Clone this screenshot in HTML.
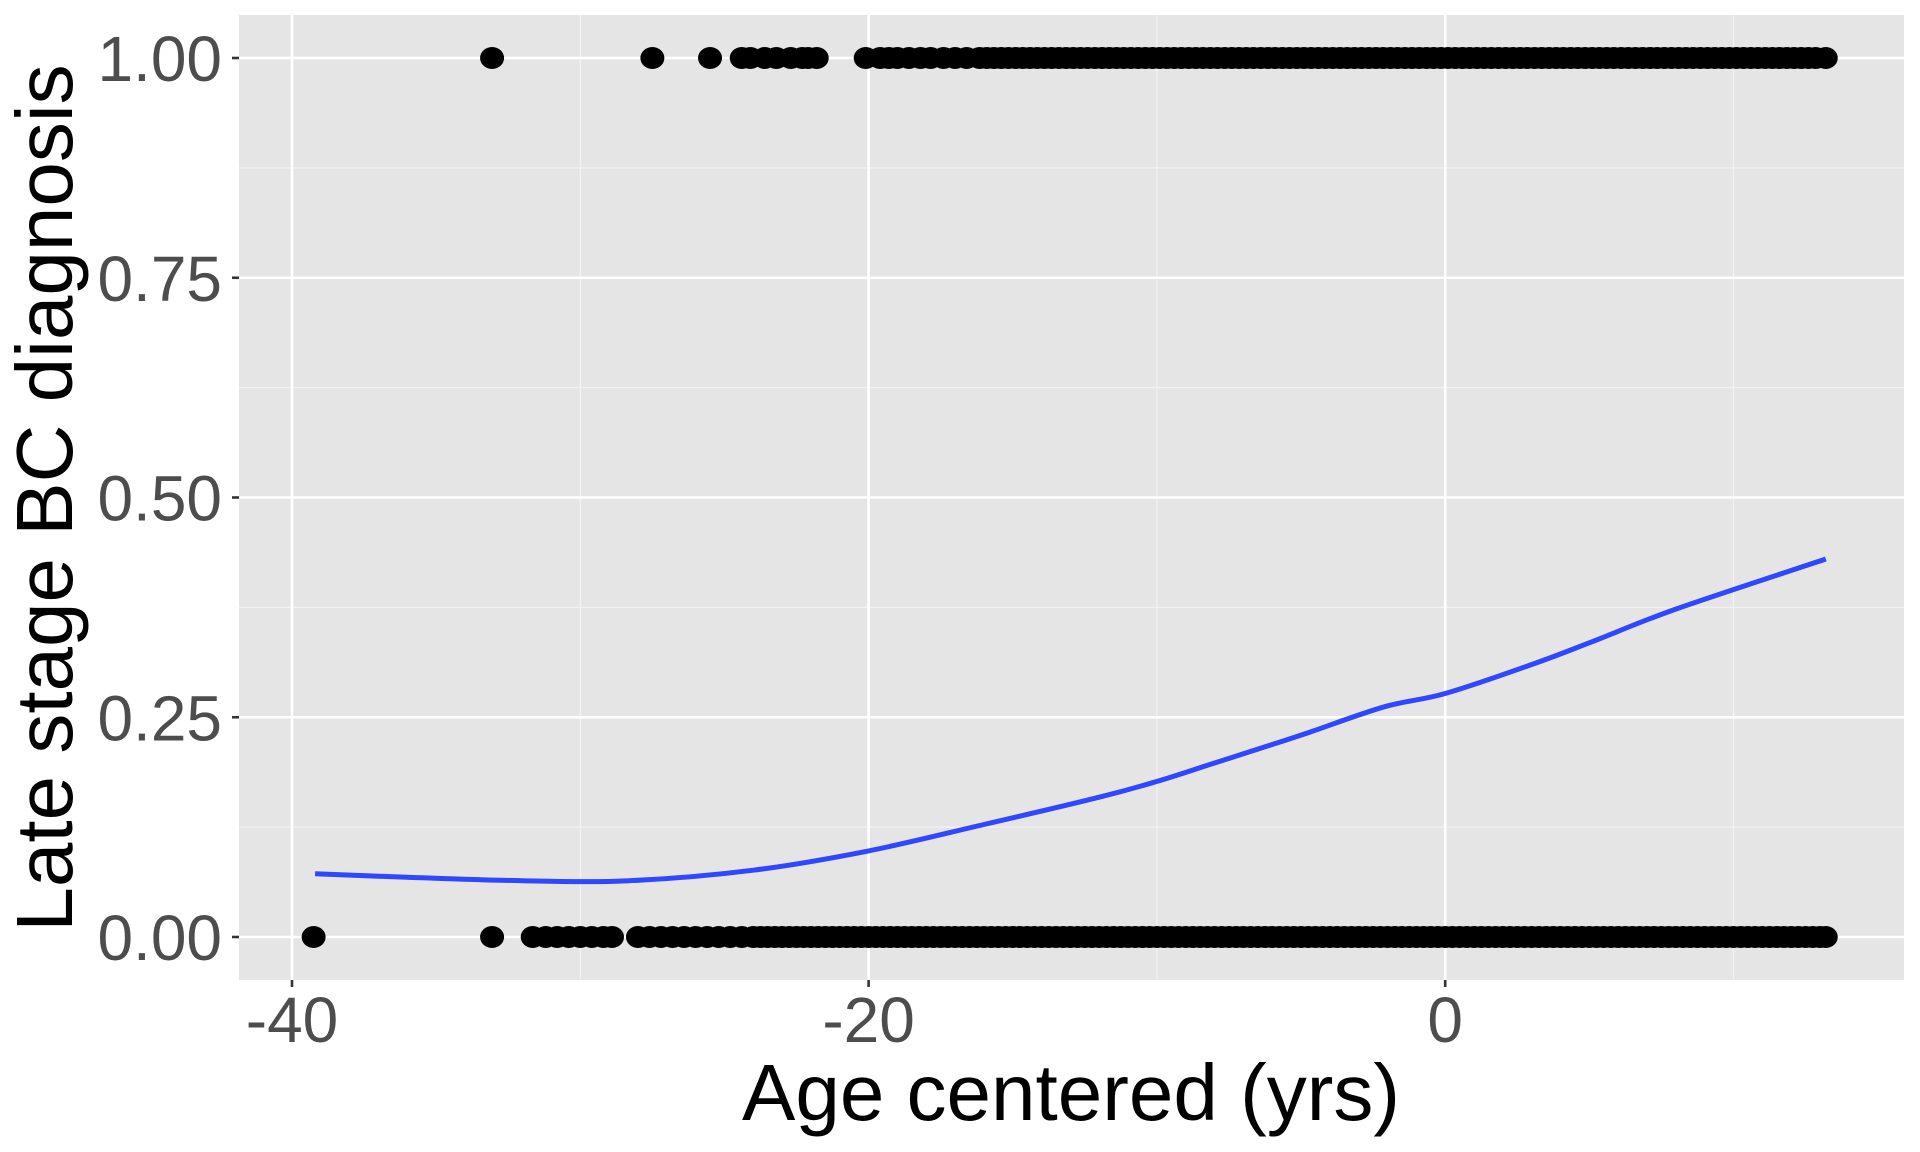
<!DOCTYPE html>
<html><head><meta charset="utf-8"><style>
body{margin:0;background:#fff;}
svg{display:block;font-family:"Liberation Sans",sans-serif;}
</style></head><body>
<svg id="chart" width="1920" height="1152" viewBox="0 0 1920 1152">
<rect x="239" y="15" width="1665" height="965" fill="#e5e5e5"/>
<g id="grid"></g>
<g id="pts"></g>
<path id="curve" fill="none" stroke="#3046ff" stroke-width="5" stroke-linejoin="round"/>
<g id="axes"></g>
<text x="1071" y="1120" font-size="80" text-anchor="middle" fill="#000">Age centered (yrs)</text>
<text transform="translate(72,498) rotate(-90)" font-size="80" text-anchor="middle" fill="#000">Late stage BC diagnosis</text>
</svg>
<script>
const xTicks=[-40,-20,0];
const xMinor=[-30,-10,10];
const yTicks=[0,0.25,0.5,0.75,1];
const yTickLabels=["0.00","0.25","0.50","0.75","1.00"];
const yMinor=[0.125,0.375,0.625,0.875];
const ones=[-33.06,-27.5,-25.5,-24.4,-24.1,-23.6,-23.2,-22.7,-22.3,-22.1,-21.8,-20.1,-19.6,-19.3,-19,-18.6,-18.2,-17.85,-17.4,-17,-16.6,-16.15,
-15.9,-15.65,-15.4,-15.15,-14.9,-14.65,-14.4,-14.15,-13.9,-13.65,-13.4,-13.15,-12.9,-12.65,-12.4,-12.15,-11.9,-11.65,-11.4,-11.15,-10.9,-10.65,-10.4,-10.15,
-9.9,-9.65,-9.4,-9.15,-8.9,-8.65,-8.4,-8.15,-7.9,-7.65,-7.4,-7.15,-6.9,-6.65,-6.4,-6.15,-5.9,-5.65,-5.4,-5.15,-4.9,-4.65,-4.4,-4.15,-3.9,-3.65,-3.4,-3.15,
-2.9,-2.65,-2.4,-2.15,-1.9,-1.65,-1.4,-1.15,-0.9,-0.65,-0.4,-0.15,0.1,0.35,0.6,0.85,1.1,1.35,1.6,1.85,2.1,2.35,2.6,2.85,3.1,3.35,3.6,3.85,4.1,4.35,4.6,4.85,
5.1,5.35,5.6,5.85,6.1,6.35,6.6,6.85,7.1,7.35,7.6,7.85,8.1,8.35,8.6,8.85,9.1,9.35,9.6,9.85,10.1,10.35,10.6,10.85,11.1,11.35,11.6,11.85,12.1,12.35,12.6,12.85,13.2];
const zeros=[-39.25,-33.06,-31.65,-31.2,-30.8,-30.4,-30,-29.6,-29.2,-28.9,-28,-27.6,-27.2,-26.8,-26.4,-26,-25.6,-25.2,-24.8,-24.4,-24,-23.75,-23.5,-23.25,-23,-22.75,-22.5,-22.25,-22,-21.75,-21.5,-21.25,-21,-20.75,-20.5,-20.25,-20,
-19.75,-19.5,-19.25,-19,-18.75,-18.5,-18.25,-18,-17.75,-17.5,-17.25,-17,-16.75,-16.5,-16.25,-16,-15.75,-15.5,-15.25,-15,-14.75,-14.5,-14.25,-14,-13.75,-13.5,-13.25,-13,
-12.75,-12.5,-12.25,-12,-11.75,-11.5,-11.25,-11,-10.75,-10.5,-10.25,-10,-9.75,-9.5,-9.25,-9,-8.75,-8.5,-8.25,-8,-7.75,-7.5,-7.25,-7,-6.75,-6.5,-6.25,-6,
-5.75,-5.5,-5.25,-5,-4.75,-4.5,-4.25,-4,-3.75,-3.5,-3.25,-3,-2.75,-2.5,-2.25,-2,-1.75,-1.5,-1.25,-1,-0.75,-0.5,-0.25,0,0.25,0.5,0.75,1,1.25,1.5,1.75,2,
2.25,2.5,2.75,3,3.25,3.5,3.75,4,4.25,4.5,4.75,5,5.25,5.5,5.75,6,6.25,6.5,6.75,7,7.25,7.5,7.75,8,8.25,8.5,8.75,9,9.25,9.5,9.75,10,10.25,10.5,10.75,11,
11.25,11.5,11.75,12,12.25,12.5,12.75,13,13.2];
const curveX=[-39.2,-36,-32,-28.3,-24,-20,-16,-12,-10,-8,-6,-4.7,-2.1,0,3,5.1,8,13.2];
const curveY=[0.072,0.068,0.064,0.064,0.076,0.098,0.128,0.159,0.177,0.198,0.219,0.233,0.262,0.277,0.310,0.336,0.373,0.430];
const sx=v=>292+(v+40)*28.83;
const sy=v=>937-v*879;
const NS="http://www.w3.org/2000/svg";
function mk(tag,attrs,parent){const e=document.createElementNS(NS,tag);for(const k in attrs)e.setAttribute(k,attrs[k]);parent.appendChild(e);return e;}
const grid=document.getElementById('grid'),axes=document.getElementById('axes'),pts=document.getElementById('pts');
xMinor.forEach(v=>{const l=mk('line',{x1:sx(v),x2:sx(v),y1:15,y2:980,stroke:'#f2f2f2','stroke-width':1.3},grid);

});
yMinor.forEach(v=>{const l=mk('line',{x1:239,x2:1904,y1:sy(v),y2:sy(v),stroke:'#f2f2f2','stroke-width':1.3},grid);

});
xTicks.forEach(v=>{const l=mk('line',{x1:sx(v),x2:sx(v),y1:15,y2:980,stroke:'#fff','stroke-width':2.6},grid);


const t=mk('line',{x1:sx(v),x2:sx(v),y1:980,y2:987,stroke:'#333','stroke-width':2.6},axes);


const tx=mk('text',{x:sx(v),y:1042,'font-size':64,'text-anchor':'middle',fill:'#4d4d4d'},axes);tx.textContent=v;

});
yTicks.forEach((v,i)=>{const l=mk('line',{x1:239,x2:1904,y1:sy(v),y2:sy(v),stroke:'#fff','stroke-width':2.6},grid);


const t=mk('line',{x1:232,x2:239,y1:sy(v),y2:sy(v),stroke:'#333','stroke-width':2.6},axes);


const tx=mk('text',{x:222,y:sy(v)+23,'font-size':64,'text-anchor':'end',fill:'#4d4d4d'},axes);tx.textContent=yTickLabels[i];

});
ones.forEach(v=>{const c=mk('ellipse',{cx:sx(v),cy:sy(1),rx:12,ry:11,fill:'#000'},pts);

});
zeros.forEach(v=>{const c=mk('ellipse',{cx:sx(v),cy:sy(0),rx:12,ry:11,fill:'#000'},pts);

});
const P=curveX.map((x,i)=>[sx(x),sy(curveY[i])]);
let d='M'+P[0][0].toFixed(1)+','+P[0][1].toFixed(1);
for(let i=0;i<P.length-1;i++){const p0=P[Math.max(0,i-1)],p1=P[i],p2=P[i+1],p3=P[Math.min(P.length-1,i+2)];
const c1=[p1[0]+(p2[0]-p0[0])/6,p1[1]+(p2[1]-p0[1])/6],c2=[p2[0]-(p3[0]-p1[0])/6,p2[1]-(p3[1]-p1[1])/6];
d+=' C'+c1.map(n=>n.toFixed(1)).join(',')+' '+c2.map(n=>n.toFixed(1)).join(',')+' '+p2.map(n=>n.toFixed(1)).join(',');}
document.getElementById('curve').setAttribute('d',d);
</script>
</body></html>
